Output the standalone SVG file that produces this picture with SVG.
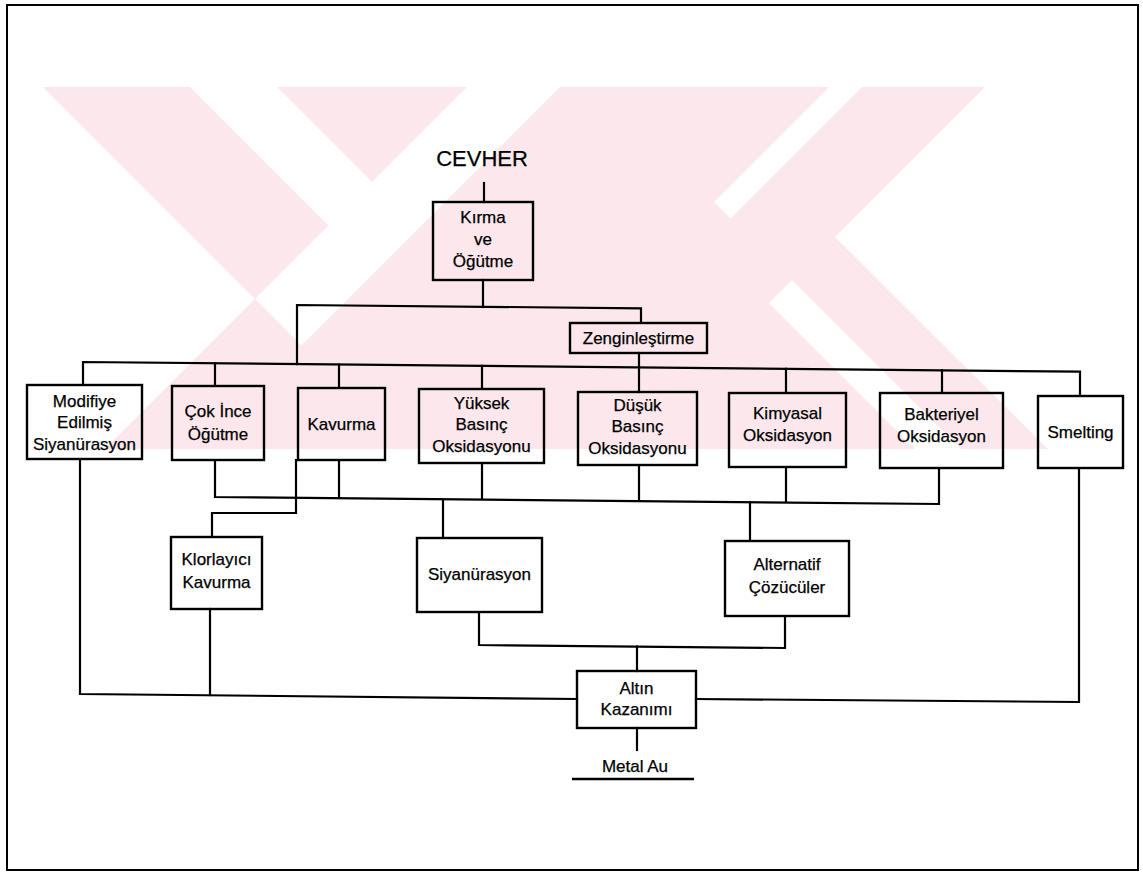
<svg xmlns="http://www.w3.org/2000/svg" width="1143" height="875" viewBox="0 0 1143 875">
<style>
.box{fill:none;stroke:#000;stroke-width:2.4}
.ln{fill:none;stroke:#000;stroke-width:2.2;stroke-linecap:square}
.t{font-family:"Liberation Sans",Arial,sans-serif;font-size:17px;fill:#000;stroke:#000;stroke-width:0.25;text-anchor:middle}
.big{font-size:22px}
.wm{fill:#fce8ec}
.wh{fill:#ffffff}
</style>
<rect x="0" y="0" width="1143" height="875" fill="#ffffff"/>
<g id="watermark">
<polygon class="wm" points="43,87 985,87 835,237 1048,449 105,449 255,299"/>
<polygon class="wh" points="190,87 277,87 372,182 328.5,225.5"/>
<polygon class="wh" points="467,87 560,87 301.5,345.5 255,299"/>
<polygon class="wh" points="829,87 862,87 730.5,218.5 714,202"/>
<polygon class="wh" points="792,280 769,303 915,449 961,449"/>
</g>
<rect x="7" y="5" width="1131" height="865" fill="none" stroke="#000" stroke-width="2"/>
<g id="connectors">
<path class="ln" d="M484,183V202"/>
<path class="ln" d="M483,280V307"/>
<path class="ln" d="M297,364.1V305L641,308.3V323"/>
<path class="ln" d="M639,353V392"/>
<path class="ln" d="M83,385V362L1080,371.7V396"/>
<path class="ln" d="M215,363.3V386M339,364.5V388M482,365.9V389M786,368.8V393M942,370.3V393"/>
<path class="ln" d="M215,460V497L939,504V468M339,460V498.2M482,463V499.6M639,465V501.1M786,467V502.5"/>
<path class="ln" d="M296,460V513H212V537"/>
<path class="ln" d="M443,499.2V538M750,502.2V541"/>
<path class="ln" d="M479,612V645L785,648V616"/>
<path class="ln" d="M637,646.6V671"/>
<path class="ln" d="M80,459V694L577,699"/>
<path class="ln" d="M210,609V695"/>
<path class="ln" d="M1079,468V702L696,699"/>
<path class="ln" d="M637,728V750"/>
<path d="M572,779H694" stroke="#000" stroke-width="2.6"/>
</g>
<g id="cevher"><text class="t big" x="482" y="166">CEVHER</text></g>
<g id="kirma"><rect class="box" x="433" y="202" width="100" height="78"/>
<text class="t" x="483" y="223">Kırma</text><text class="t" x="483" y="245">ve</text><text class="t" x="483" y="267">Öğütme</text></g>
<g id="zenginlestirme"><rect class="box" x="570" y="323" width="137" height="30"/>
<text class="t" x="638.5" y="344">Zenginleştirme</text></g>
<g id="modifiye"><rect class="box" x="27" y="385" width="115" height="74"/>
<text class="t" x="84.5" y="407">Modifiye</text><text class="t" x="84.5" y="428">Edilmiş</text><text class="t" x="84.5" y="450">Siyanürasyon</text></g>
<g id="cok-ince"><rect class="box" x="172" y="386" width="92" height="74"/>
<text class="t" x="218" y="417">Çok İnce</text><text class="t" x="218" y="440">Öğütme</text></g>
<g id="kavurma"><rect class="box" x="298" y="388" width="87" height="72"/>
<text class="t" x="341.5" y="430">Kavurma</text></g>
<g id="yuksek"><rect class="box" x="419" y="389" width="125" height="74"/>
<text class="t" x="481.5" y="409">Yüksek</text><text class="t" x="481.5" y="430">Basınç</text><text class="t" x="481.5" y="452">Oksidasyonu</text></g>
<g id="dusuk"><rect class="box" x="578" y="392" width="119" height="73"/>
<text class="t" x="637.5" y="411">Düşük</text><text class="t" x="637.5" y="432">Basınç</text><text class="t" x="637.5" y="454">Oksidasyonu</text></g>
<g id="kimyasal"><rect class="box" x="729" y="393" width="117" height="74"/>
<text class="t" x="787.5" y="419">Kimyasal</text><text class="t" x="787.5" y="441">Oksidasyon</text></g>
<g id="bakteriyel"><rect class="box" x="880" y="393" width="123" height="75"/>
<text class="t" x="941.5" y="420">Bakteriyel</text><text class="t" x="941.5" y="442">Oksidasyon</text></g>
<g id="smelting"><rect class="box" x="1038" y="396" width="85" height="72"/>
<text class="t" x="1080.5" y="438">Smelting</text></g>
<g id="klorlayici"><rect class="box" x="171" y="537" width="91" height="72"/>
<text class="t" x="216.5" y="565">Klorlayıcı</text><text class="t" x="216.5" y="588">Kavurma</text></g>
<g id="siyanurasyon"><rect class="box" x="417" y="538" width="125" height="74"/>
<text class="t" x="479.5" y="580">Siyanürasyon</text></g>
<g id="alternatif"><rect class="box" x="725" y="541" width="124" height="75"/>
<text class="t" x="787" y="570">Alternatif</text><text class="t" x="787" y="593">Çözücüler</text></g>
<g id="altin"><rect class="box" x="577" y="671" width="119" height="57"/>
<text class="t" x="636.5" y="694">Altın</text><text class="t" x="636.5" y="715">Kazanımı</text></g>
<g id="metal-au"><text class="t" x="635" y="772">Metal Au</text></g>
</svg>
